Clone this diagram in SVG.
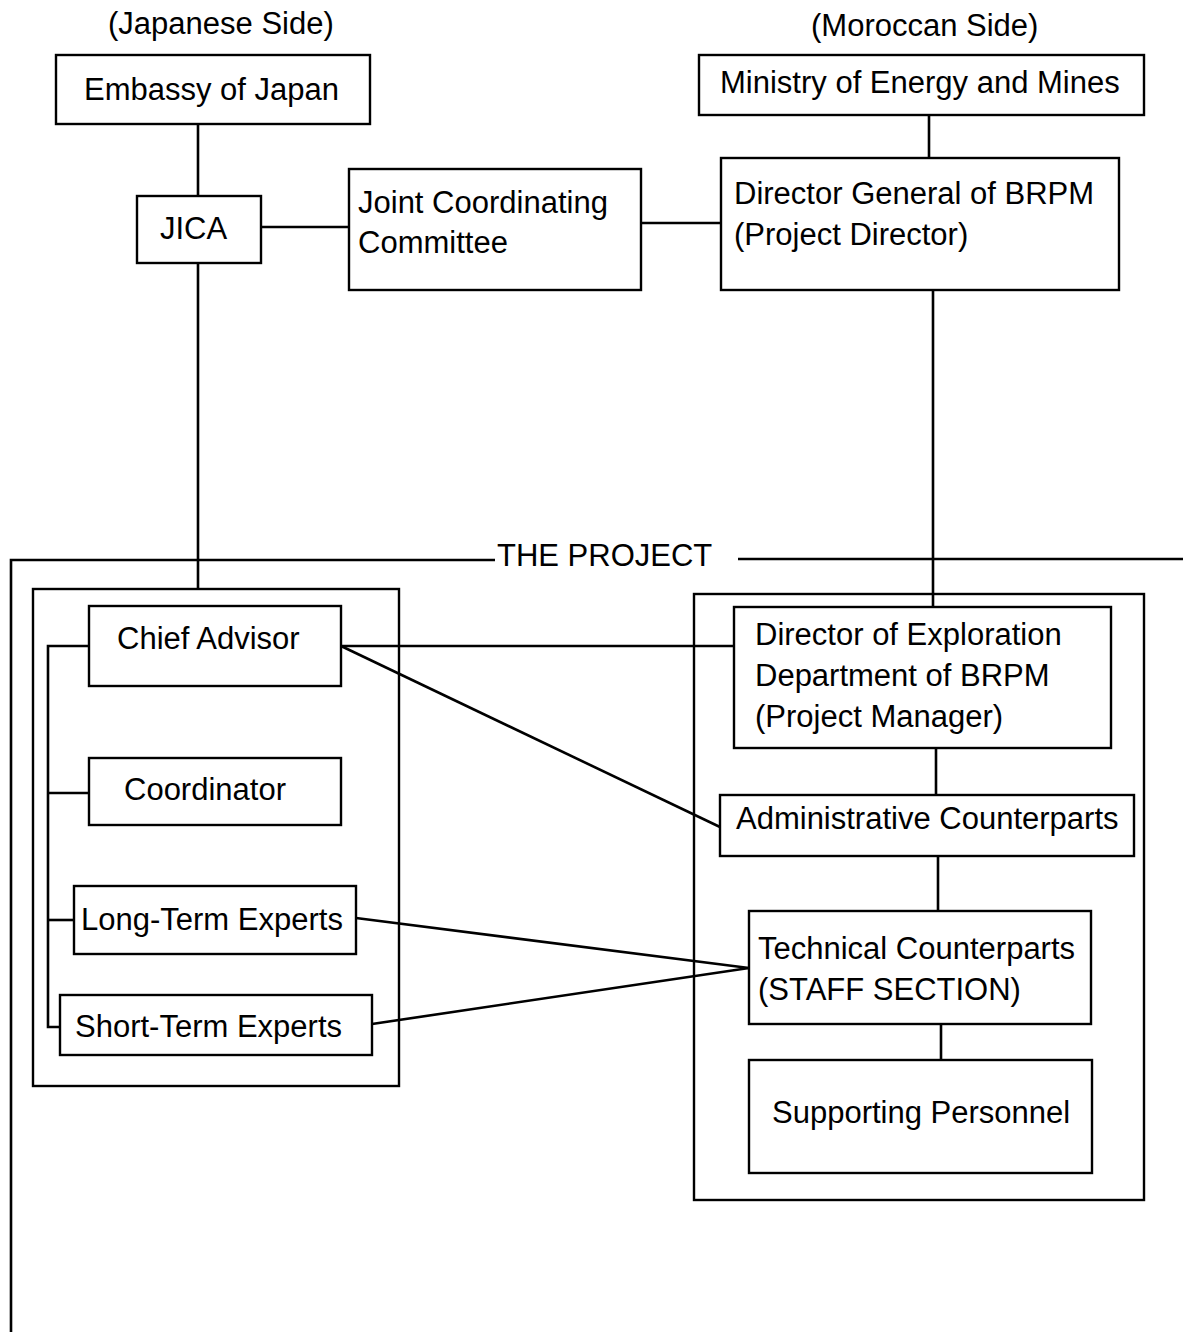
<svg xmlns="http://www.w3.org/2000/svg" width="1183" height="1332" viewBox="0 0 1183 1332">
<style>
.box{fill:none;stroke:#000;stroke-width:2.4}
.ln{fill:none;stroke:#000;stroke-width:2.6}
.frame{fill:none;stroke:#000;stroke-width:2.6}
text{font-family:"Liberation Sans",Arial,sans-serif;font-size:31px;fill:#000}
</style>
<rect width="1183" height="1332" fill="#fff"/>
<g id="side-labels">
<text x="108" y="34">(Japanese Side)</text>
<text x="811" y="36">(Moroccan Side)</text>
</g>
<g id="project-frame">
<path class="frame" d="M11 1332 V560 H495"/>
<path class="frame" d="M738 559 H1183"/>
<text x="497" y="566">THE PROJECT</text>
</g>
<g id="japanese-team">
<rect class="box" x="33" y="589" width="366" height="497"/>
</g>
<g id="moroccan-team">
<rect class="box" x="694" y="594" width="450" height="606"/>
</g>
<g id="embassy">
<rect class="box" x="56" y="55" width="314" height="69"/>
<text x="84" y="100">Embassy of Japan</text>
</g>
<g id="ministry">
<rect class="box" x="699" y="55" width="445" height="60"/>
<text x="720" y="93">Ministry of Energy and Mines</text>
</g>
<g id="jica">
<rect class="box" x="137" y="196" width="124" height="67"/>
<text x="160" y="239">JICA</text>
</g>
<g id="jcc">
<rect class="box" x="349" y="169" width="292" height="121"/>
<text x="358" y="213">Joint Coordinating</text>
<text x="358" y="253">Committee</text>
</g>
<g id="director-general">
<rect class="box" x="721" y="158" width="398" height="132"/>
<text x="734" y="204">Director General of BRPM</text>
<text x="734" y="245">(Project Director)</text>
</g>
<g id="chief-advisor">
<rect class="box" x="89" y="606" width="252" height="80"/>
<text x="117" y="649">Chief Advisor</text>
</g>
<g id="coordinator">
<rect class="box" x="89" y="758" width="252" height="67"/>
<text x="124" y="800">Coordinator</text>
</g>
<g id="long-term-experts">
<rect class="box" x="74" y="886" width="282" height="68"/>
<text x="81" y="930">Long-Term Experts</text>
</g>
<g id="short-term-experts">
<rect class="box" x="60" y="995" width="312" height="60"/>
<text x="75" y="1037">Short-Term Experts</text>
</g>
<g id="director-exploration">
<rect class="box" x="734" y="607" width="377" height="141"/>
<text x="755" y="645">Director of Exploration</text>
<text x="755" y="686">Department of BRPM</text>
<text x="755" y="727">(Project Manager)</text>
</g>
<g id="administrative-counterparts">
<rect class="box" x="720" y="795" width="414" height="61"/>
<text x="736" y="829">Administrative Counterparts</text>
</g>
<g id="technical-counterparts">
<rect class="box" x="749" y="911" width="342" height="113"/>
<text x="758" y="959">Technical Counterparts</text>
<text x="758" y="1000">(STAFF SECTION)</text>
</g>
<g id="supporting-personnel">
<rect class="box" x="749" y="1060" width="343" height="113"/>
<text x="772" y="1123">Supporting Personnel</text>
</g>
<g id="connectors">
<path class="ln" d="M198 124 V196"/>
<path class="ln" d="M261 227 H349"/>
<path class="ln" d="M641 223 H721"/>
<path class="ln" d="M929 115 V158"/>
<path class="ln" d="M198 263 V589"/>
<path class="ln" d="M933 290 V607"/>
<path class="ln" d="M89 646 H48 V1027 H60"/>
<path class="ln" d="M48 793 H89"/>
<path class="ln" d="M48 920 H74"/>
<path class="ln" d="M341 646 H734"/>
<path class="ln" d="M341 646 L720 827"/>
<path class="ln" d="M356 918 L749 968"/>
<path class="ln" d="M372 1024 L749 968"/>
<path class="ln" d="M936 748 V795"/>
<path class="ln" d="M938 856 V911"/>
<path class="ln" d="M941 1024 V1060"/>
</g>
</svg>
